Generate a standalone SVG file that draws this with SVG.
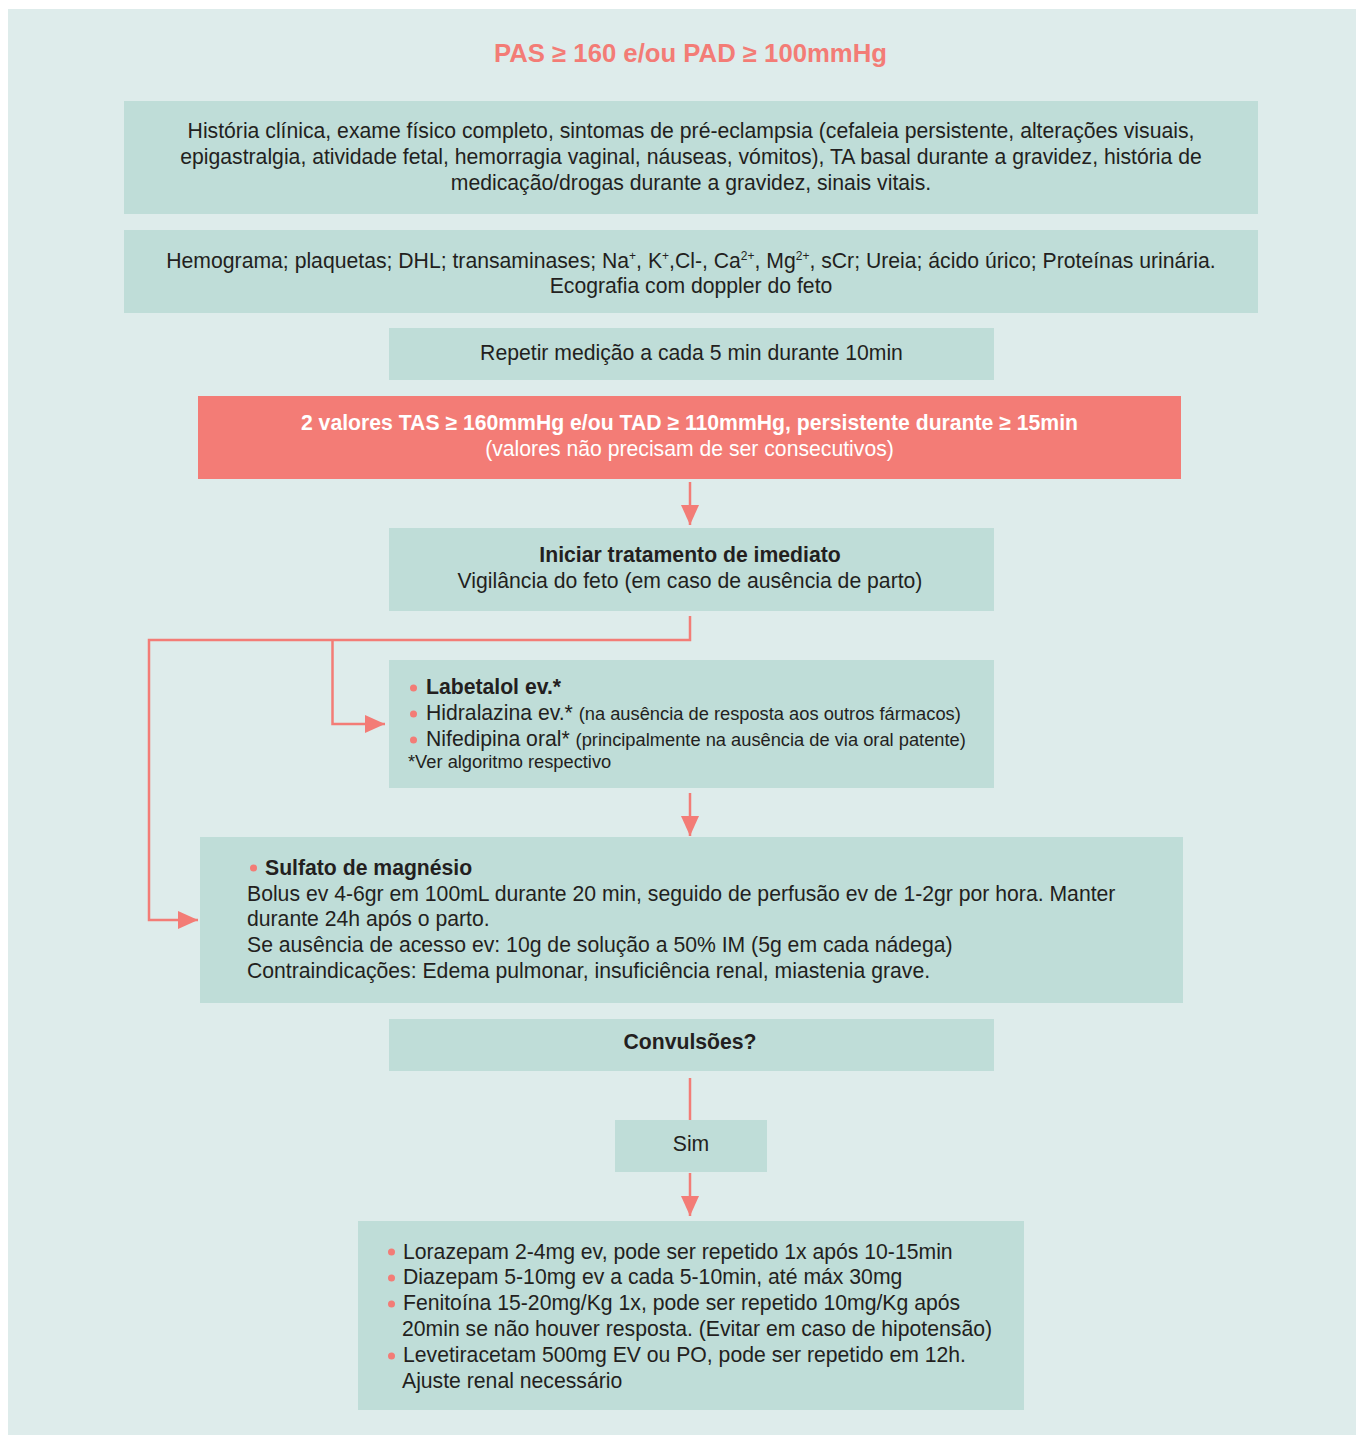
<svg xmlns="http://www.w3.org/2000/svg" width="1358" height="1436" viewBox="0 0 1358 1436">
  <style>
    .panel { fill: #deeceb; }
    .box { fill: #bfddd8; }
    .alert { fill: #f37c76; }
    .t { font-family: "Liberation Sans", Arial, sans-serif; font-size: 21.2px; fill: #231f20; }
    .c { text-anchor: middle; }
    .b { font-weight: bold; }
    .s { font-size: 18.3px; }
    .w { fill: #ffffff; }
    .title { font-family: "Liberation Sans", Arial, sans-serif; font-size: 25px; font-weight: bold; fill: #f37c76; text-anchor: middle; }
    .sup { font-size: 12px; }
    .dot { fill: #f37c76; }
    .wire { fill: none; stroke: #f37c76; stroke-width: 2.5; }
  </style>
  <defs>
    <marker id="head" viewBox="0 0 20 18" refX="20" refY="9" markerWidth="20" markerHeight="18" markerUnits="userSpaceOnUse" orient="auto">
      <path d="M0,0 L20,9 L0,18 Z" fill="#f37c76"/>
    </marker>
  </defs>

  <rect class="panel" x="8" y="9" width="1348" height="1426"/>

  <g id="title">
    <text class="title" x="690.5" y="62" textLength="393" lengthAdjust="spacingAndGlyphs">PAS ≥ 160 e/ou PAD ≥ 100mmHg</text>
  </g>

  <g id="history">
    <rect class="box" x="124" y="101" width="1134" height="113"/>
    <text class="t c" x="691" y="138">História clínica, exame físico completo, sintomas de pré-eclampsia (cefaleia persistente, alterações visuais,</text>
    <text class="t c" x="691" y="164">epigastralgia, atividade fetal, hemorragia vaginal, náuseas, vómitos), TA basal durante a gravidez, história de</text>
    <text class="t c" x="691" y="190">medicação/drogas durante a gravidez, sinais vitais.</text>
  </g>

  <g id="labs">
    <rect class="box" x="124" y="230" width="1134" height="83"/>
    <text class="t c" x="691" y="268">Hemograma; plaquetas; DHL; transaminases; Na<tspan class="sup" dy="-8">+</tspan><tspan dy="8">, K</tspan><tspan class="sup" dy="-8">+</tspan><tspan dy="8">,Cl-, Ca</tspan><tspan class="sup" dy="-8">2+</tspan><tspan dy="8">, Mg</tspan><tspan class="sup" dy="-8">2+</tspan><tspan dy="8">, sCr; Ureia; ácido úrico; Proteínas urinária.</tspan></text>
    <text class="t c" x="691" y="293">Ecografia com doppler do feto</text>
  </g>

  <g id="repeat">
    <rect class="box" x="389" y="328" width="605" height="52"/>
    <text class="t c" x="691.5" y="360">Repetir medição a cada 5 min durante 10min</text>
  </g>

  <g id="criteria">
    <rect class="alert" x="198" y="396" width="983" height="83"/>
    <text class="t c b w" x="689.5" y="430">2 valores TAS ≥ 160mmHg e/ou TAD ≥ 110mmHg, persistente durante ≥ 15min</text>
    <text class="t c w" x="689.5" y="456">(valores não precisam de ser consecutivos)</text>
  </g>

  <g id="start">
    <rect class="box" x="389" y="528" width="605" height="83"/>
    <text class="t c b" x="690" y="562">Iniciar tratamento de imediato</text>
    <text class="t c" x="690" y="588">Vigilância do feto (em caso de ausência de parto)</text>
  </g>

  <g id="antihypertensives">
    <rect class="box" x="389" y="660" width="605" height="128"/>
    <circle class="dot" cx="413.5" cy="688" r="3.5"/>
    <circle class="dot" cx="413.5" cy="714" r="3.5"/>
    <circle class="dot" cx="413.5" cy="740" r="3.5"/>
    <text class="t b" x="426" y="694">Labetalol ev.*</text>
    <text class="t" x="426" y="720">Hidralazina ev.* <tspan class="s">(na ausência de resposta aos outros fármacos)</tspan></text>
    <text class="t" x="426" y="746">Nifedipina oral* <tspan class="s">(principalmente na ausência de via oral patente)</tspan></text>
    <text class="t s" x="408" y="768">*Ver algoritmo respectivo</text>
  </g>

  <g id="magnesium">
    <rect class="box" x="200" y="837" width="983" height="166"/>
    <circle class="dot" cx="253.5" cy="868" r="3.5"/>
    <text class="t b" x="265" y="875">Sulfato de magnésio</text>
    <text class="t" x="247" y="901">Bolus ev 4-6gr em 100mL durante 20 min, seguido de perfusão ev de 1-2gr por hora. Manter</text>
    <text class="t" x="247" y="926">durante 24h após o parto.</text>
    <text class="t" x="247" y="952">Se ausência de acesso ev: 10g de solução a 50% IM (5g em cada nádega)</text>
    <text class="t" x="247" y="978">Contraindicações: Edema pulmonar, insuficiência renal, miastenia grave.</text>
  </g>

  <g id="seizures">
    <rect class="box" x="389" y="1019" width="605" height="52"/>
    <text class="t c b" x="690" y="1049">Convulsões?</text>
  </g>

  <g id="yes">
    <rect class="box" x="615" y="1120" width="152" height="52"/>
    <text class="t c" x="691" y="1151">Sim</text>
  </g>

  <g id="anticonvulsants">
    <rect class="box" x="358" y="1221" width="666" height="189"/>
    <circle class="dot" cx="391.5" cy="1252" r="3.5"/>
    <circle class="dot" cx="391.5" cy="1278" r="3.5"/>
    <circle class="dot" cx="391.5" cy="1304" r="3.5"/>
    <circle class="dot" cx="391.5" cy="1356" r="3.5"/>
    <text class="t" x="403" y="1259">Lorazepam 2-4mg ev, pode ser repetido 1x após 10-15min</text>
    <text class="t" x="403" y="1284">Diazepam 5-10mg ev a cada 5-10min, até máx 30mg</text>
    <text class="t" x="403" y="1310">Fenitoína 15-20mg/Kg 1x, pode ser repetido 10mg/Kg após</text>
    <text class="t" x="402" y="1336">20min se não houver resposta. (Evitar em caso de hipotensão)</text>
    <text class="t" x="403" y="1362">Levetiracetam 500mg EV ou PO, pode ser repetido em 12h.</text>
    <text class="t" x="402" y="1388">Ajuste renal necessário</text>
  </g>

  <g id="connectors">
    <path class="wire" d="M690,482 V525" marker-end="url(#head)"/>
    <path class="wire" d="M690,616 V640 H149 V920 H198" marker-end="url(#head)"/>
    <path class="wire" d="M332.5,640 V724 H385" marker-end="url(#head)"/>
    <path class="wire" d="M690,793 V836" marker-end="url(#head)"/>
    <path class="wire" d="M690,1078 V1120"/>
    <path class="wire" d="M690,1173 V1216" marker-end="url(#head)"/>
  </g>
</svg>
